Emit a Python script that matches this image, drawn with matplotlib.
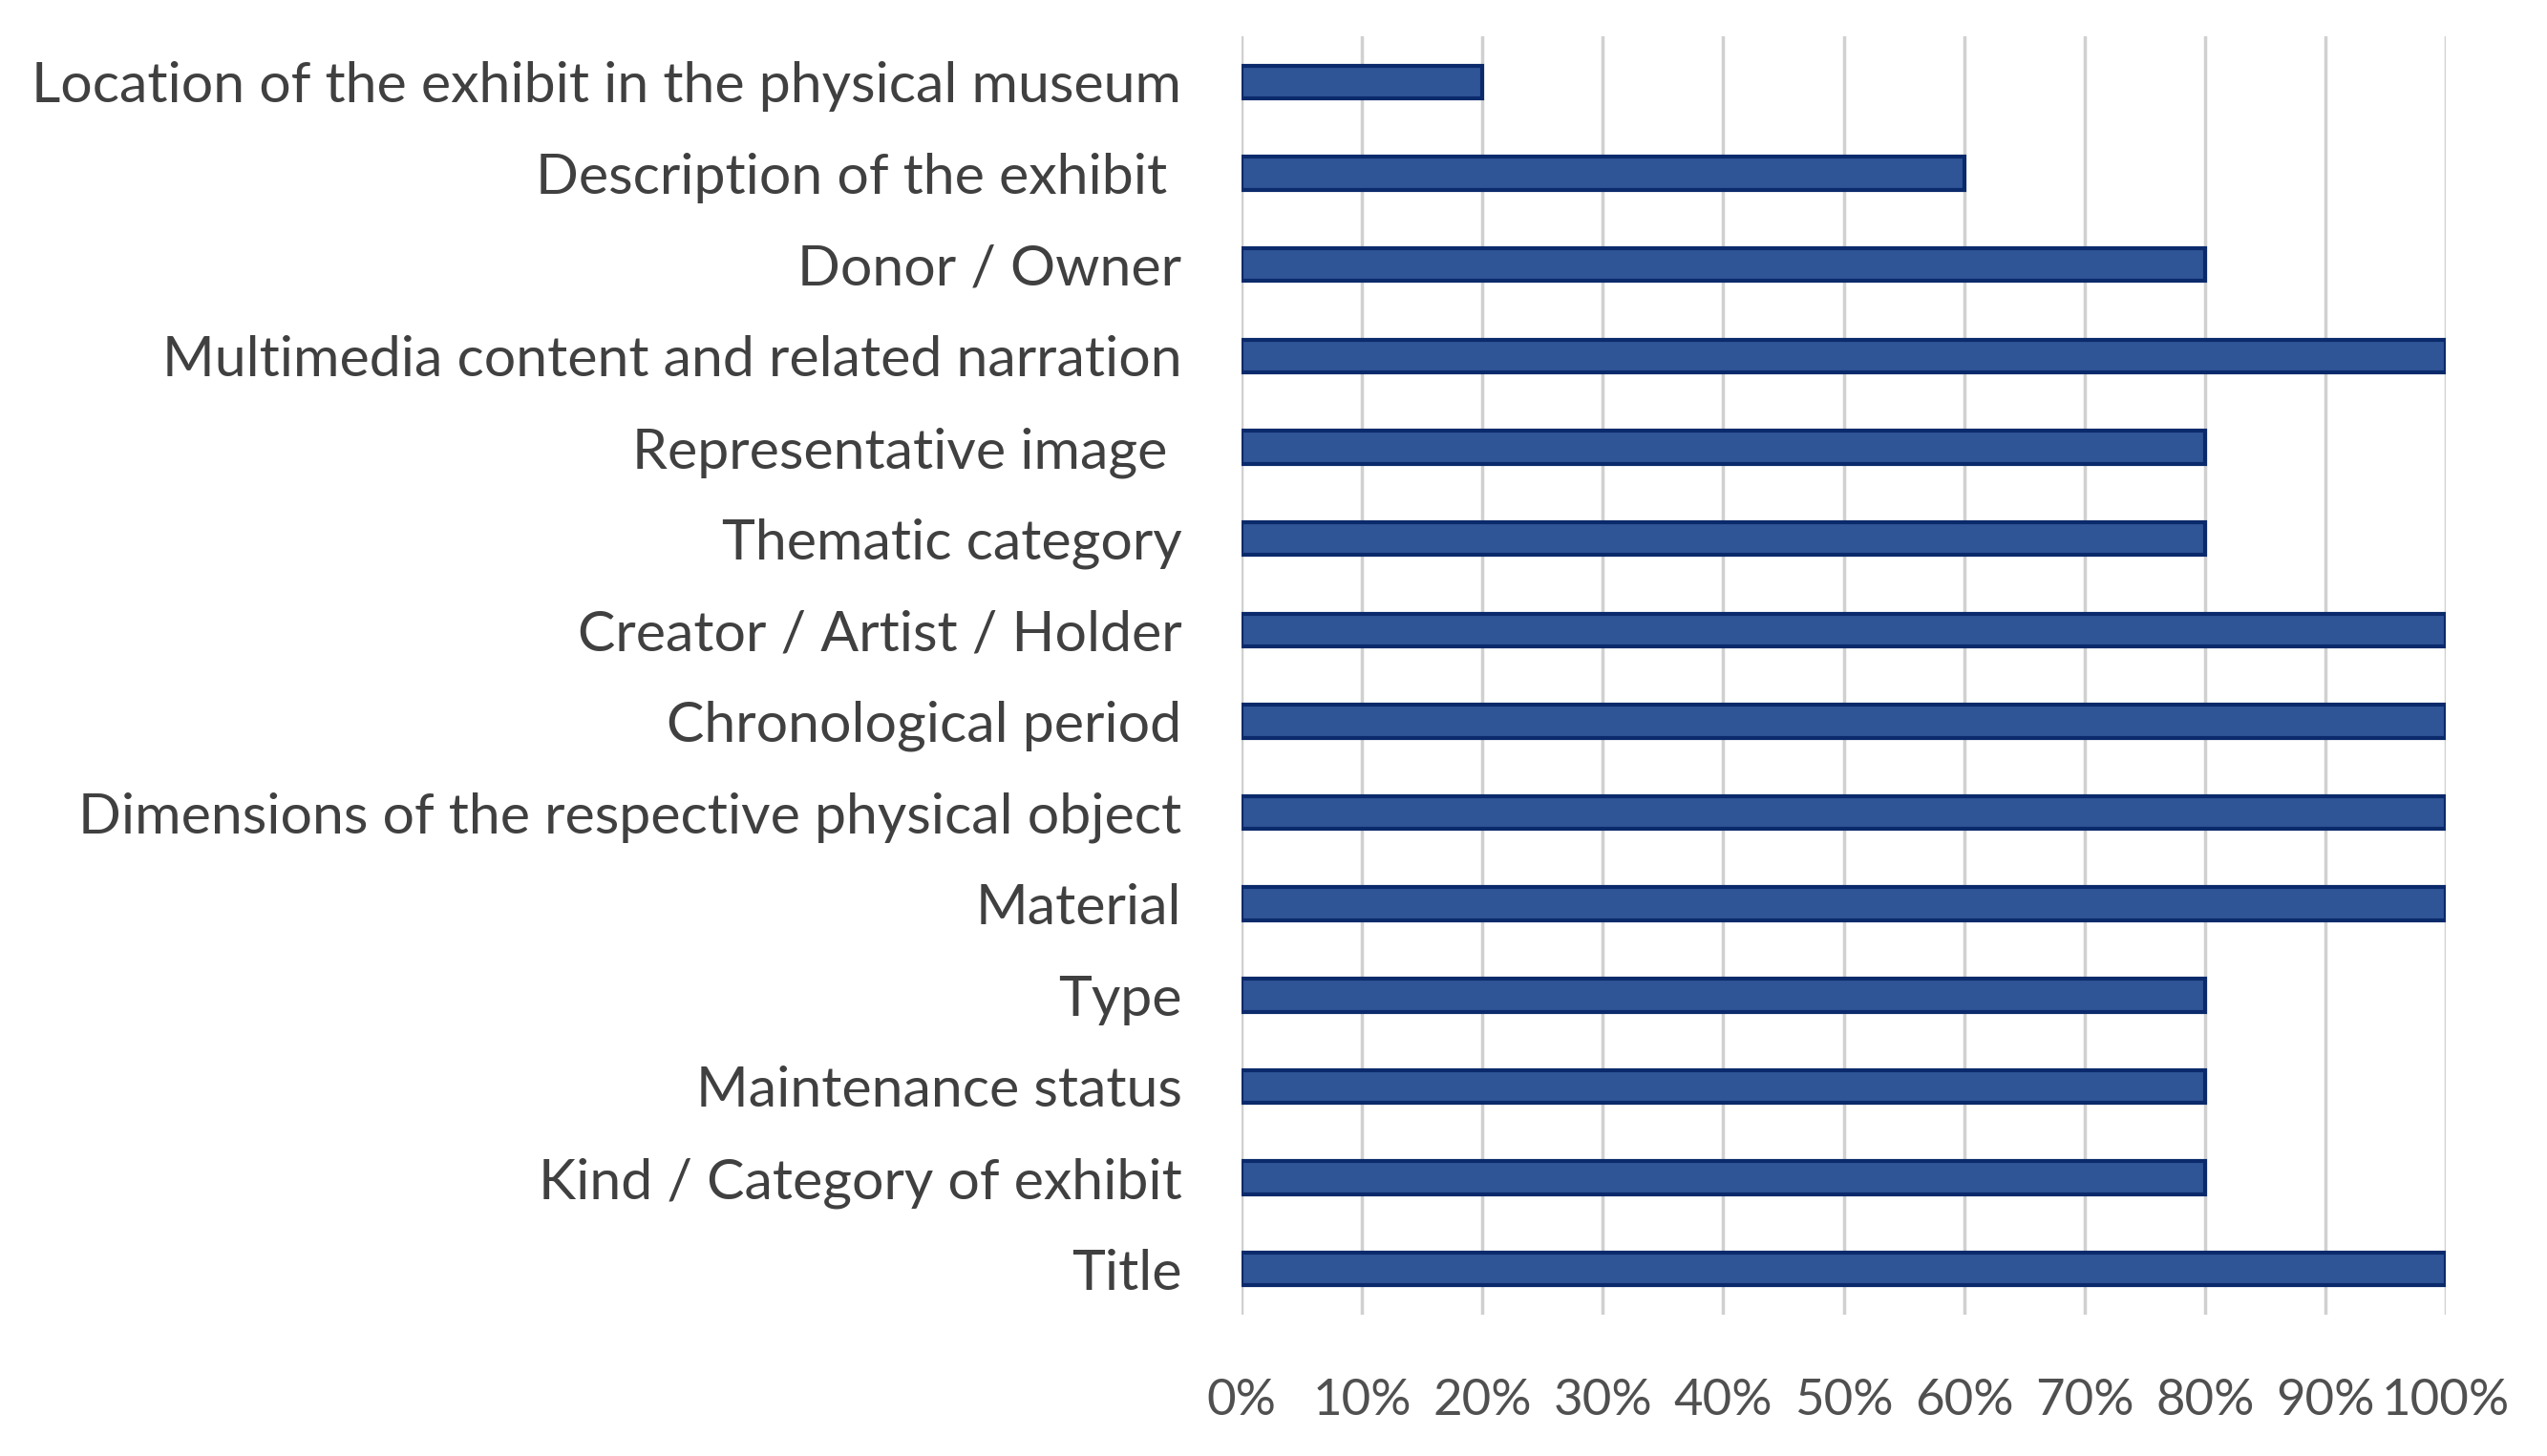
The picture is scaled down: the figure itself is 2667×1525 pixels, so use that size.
import matplotlib
matplotlib.use("Agg")
import matplotlib.pyplot as plt
from matplotlib.ticker import FuncFormatter

categories = [
    "Title",
    "Kind / Category of exhibit",
    "Maintenance status",
    "Type",
    "Material",
    "Dimensions of the respective physical object",
    "Chronological period",
    "Creator / Artist / Holder",
    "Thematic category",
    "Representative image ",
    "Multimedia content and related narration",
    "Donor / Owner",
    "Description of the exhibit ",
    "Location of the exhibit in the physical museum",
]
values = [1.0, 0.8, 0.8, 0.8, 1.0, 1.0, 1.0, 1.0, 0.8, 0.8, 1.0, 0.8, 0.6, 0.2]
xticks = [0.0, 0.1, 0.2, 0.3, 0.4, 0.5, 0.6, 0.7, 0.8, 0.9, 1.0]

plt.rcParams['font.family'] = ['Lato', 'DejaVu Sans']

fig = plt.figure(figsize=(26.67, 15.25), dpi=100)
ax = fig.add_axes([0.4874, 0.097, 0.4729, 0.878])

ax.barh(range(len(categories)), values, height=0.36, color="#2F5597",
        edgecolor="#0B2A6B", linewidth=3, zorder=3)

ax.set_xlim(0, 1.0)
ax.set_ylim(-0.5, len(categories) - 0.5)
ax.set_xticks(xticks)
ax.xaxis.set_major_formatter(FuncFormatter(lambda v, p: f"{round(v*100)}%"))
ax.set_yticks(range(len(categories)))
ax.set_yticklabels(categories)

ax.grid(axis="x", color="#D0D0D0", linewidth=2.5, zorder=0)
ax.grid(axis="y", visible=False)
ax.set_axisbelow(True)
for s in ax.spines.values():
    s.set_visible(False)

ax.tick_params(axis="y", length=0, pad=45, labelsize=42.5, labelcolor="#404040")
ax.tick_params(axis="x", length=0, pad=48, labelsize=38, labelcolor="#505050")

fig.savefig("out.png", dpi=100, facecolor="white")
